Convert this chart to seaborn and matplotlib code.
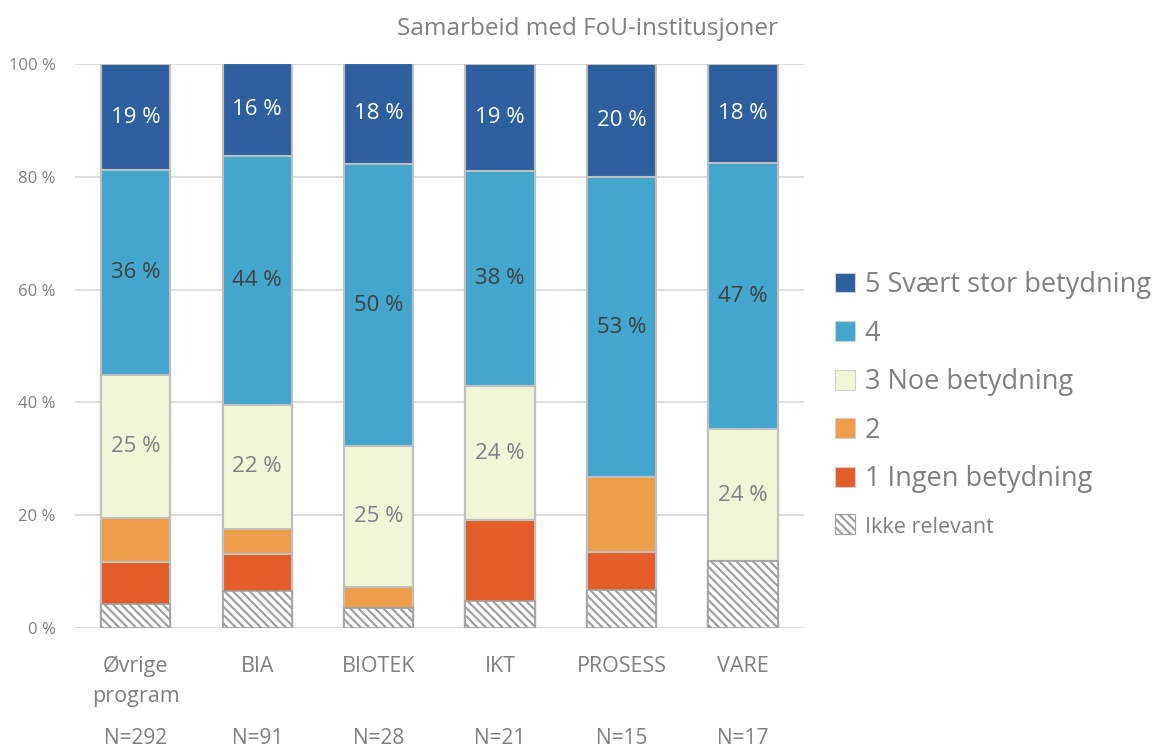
import matplotlib
matplotlib.use("Agg")
import matplotlib.pyplot as plt
import seaborn as sns
import pandas as pd
import numpy as np
from matplotlib.patches import Patch

programs = ["Øvrige\nprogram", "BIA", "BIOTEK", "IKT", "PROSESS", "VARE"]
n_labels = ["N=292", "N=91", "N=28", "N=21", "N=15", "N=17"]
ikke_relevant = [4.3, 6.6, 3.6, 4.8, 6.7, 11.8]
s1_ingen = [7.4, 6.6, 0.0, 14.3, 6.7, 0.0]
s2 = [7.8, 4.4, 3.6, 0.0, 13.3, 0.0]
s3_noe = [25.4, 22.0, 25.0, 23.8, 0.0, 23.5]
s4 = [36.3, 44.0, 50.0, 38.1, 53.3, 47.1]
s5_svaert = [18.8, 16.5, 17.9, 19.0, 20.0, 17.6]

series_names = ["Ikke relevant", "1 Ingen betydning", "2", "3 Noe betydning", "4", "5 Svært stor betydning"]
series_vals = [ikke_relevant, s1_ingen, s2, s3_noe, s4, s5_svaert]
colors = ["#FFFFFF", "#E35D2B", "#EE9D4A", "#F1F6D8", "#44A6CD", "#2E60A0"]
label_colors = [None, None, None, "#808080", "#404040", "#FFFFFF"]

sns.set_theme(style="white")
plt.rcParams["font.family"] = ["Open Sans", "DejaVu Sans"]
plt.rcParams["hatch.linewidth"] = 1.6

fig = plt.figure(figsize=(11.58, 7.52), dpi=100)
ax = fig.add_axes([0.0648, 0.1649, 0.6292, 0.75])

vals = np.array(series_vals)
cum = np.cumsum(vals, axis=0)
bar_w = 0.57

# draw cumulative bars from top down
for i in range(len(series_names) - 1, -1, -1):
    df = pd.DataFrame({"program": programs, "cum": cum[i]})
    kws = dict(edgecolor="#BFBFBF", linewidth=1.5)
    if i == 0:
        kws = dict(edgecolor="#A0A0A0", linewidth=1.2, hatch="\\\\\\\\")
    sns.barplot(data=df, x="program", y="cum", order=programs, color=colors[i],
                saturation=1, width=bar_w, ax=ax, zorder=2, **kws)
    if i == 0:
        for p in ax.patches[-len(programs):]:
            p.set_facecolor("white")

# labels
for i in (3, 4, 5):
    for j in range(len(programs)):
        v = vals[i, j]
        if v > 0:
            ymid = cum[i, j] - v / 2
            ax.text(j, ymid, f"{int(round(v))} %", ha="center", va="center",
                    fontsize=16, color=label_colors[i], zorder=5)

ax.set_ylim(0, 100)
ax.set_xlim(-0.5, 5.5)
ax.set_yticks([0, 20, 40, 60, 80, 100])
ax.set_yticklabels([f"{t} %" for t in [0, 20, 40, 60, 80, 100]], fontsize=12, color="#7F7F7F")
ax.set_xticks(range(len(programs)))
ax.set_xticklabels(programs, fontsize=15.5, color="#7F7F7F", linespacing=1.55)
ax.tick_params(axis="x", length=0, pad=20)
ax.tick_params(axis="y", length=0, pad=14)
ax.set_xlabel("")
ax.set_ylabel("")
for s in ax.spines.values():
    s.set_visible(False)
ax.yaxis.grid(True, color="#D9D9D9", linewidth=1.3, zorder=0)
ax.set_axisbelow(True)

for j, t in enumerate(n_labels):
    ax.text(j, -19.6, t, ha="center", va="center", fontsize=15, color="#7F7F7F",
            transform=ax.transData, clip_on=False)

fig.text(0.507, 0.962, "Samarbeid med FoU-institusjoner", ha="center", va="center",
         fontsize=17.5, color="#7F7F7F")

handles = []
for i in range(len(series_names) - 1, -1, -1):
    if i == 0:
        handles.append(Patch(facecolor="white", edgecolor="#A0A0A0", hatch="\\\\\\\\",
                             linewidth=0.8, label=series_names[i]))
    else:
        handles.append(Patch(facecolor=colors[i], edgecolor="#D0D0D0", linewidth=0.8,
                             label=series_names[i]))
leg = fig.legend(handles=handles, loc="center left", bbox_to_anchor=(0.7, 0.462),
                 frameon=False, fontsize=19.5, handlelength=0.75, handleheight=0.75,
                 handletextpad=0.35, labelspacing=0.76)
for t in leg.get_texts():
    t.set_color("#7F7F7F")
leg.get_texts()[-1].set_fontsize(15.5)

fig.savefig("out.png", dpi=100)
